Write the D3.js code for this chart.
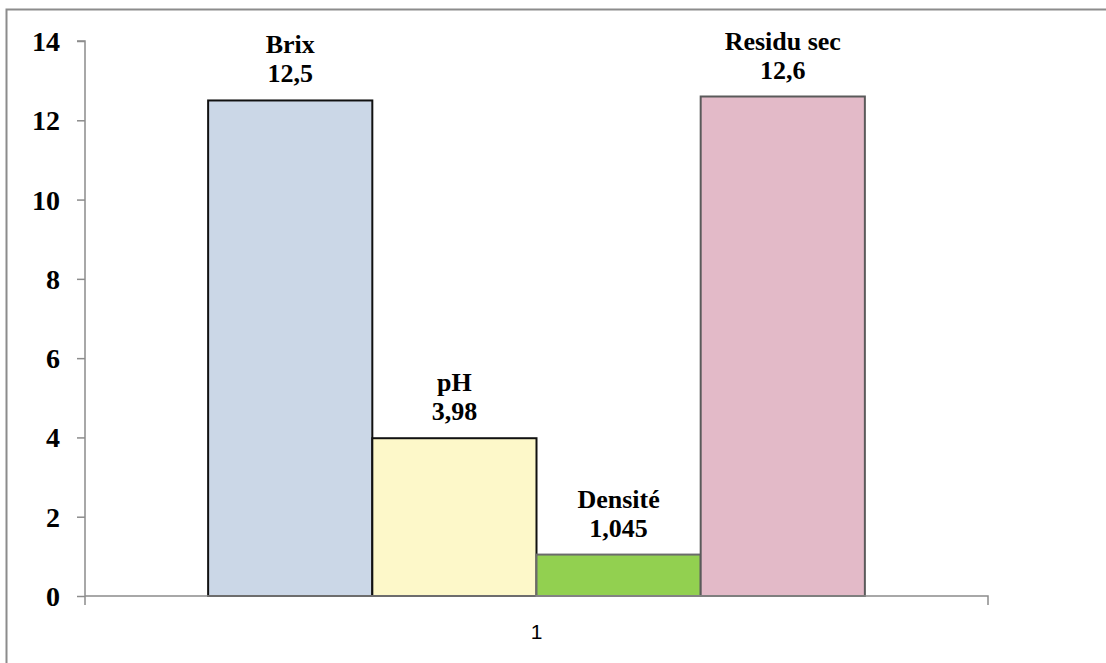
<!DOCTYPE html>
<html>
<head>
<meta charset="utf-8">
<script src="https://cdn.jsdelivr.net/npm/d3@7"></script>
<style>
  body { margin: 0; background: #fff; }
  svg { display: block; }
</style>
</head>
<body>
<div id="graph"></div>
<script>
// donnees
const series = ["Brix", "pH", "Densité", "Residu sec"];
const values = [12.5, 3.98, 1.045, 12.6];
const valueLabels = ["12,5", "3,98", "1,045", "12,6"];
const categories = ["1"];
const yTicks = [0, 2, 4, 6, 8, 10, 12, 14];

const colors = ["#cbd7e7", "#fdf8c9", "#92d050", "#e3bac8"];
const strokes = ["#111", "#111", "#6b6b6b", "#5a5a5a"];

const serif = "'Liberation Serif', 'Times New Roman', serif";

const W = 1106, H = 663;
const margin = { top: 41, right: 118, bottom: 67, left: 85 },
    width = W - margin.left - margin.right,
    height = H - margin.top - margin.bottom;

const svg = d3.select("#graph")
    .append("svg")
    .attr("width", W)
    .attr("height", H);

// cadre exterieur (coupe en bas et a droite)
svg.append("rect")
    .attr("x", 6.5).attr("y", 9.5)
    .attr("width", W + 10).attr("height", H + 10)
    .attr("fill", "none")
    .attr("stroke", "#8c8c8c")
    .attr("stroke-width", 2);

const g = svg.append("g")
    .attr("transform", "translate(" + margin.left + "," + margin.top + ")");

// X : une categorie, 4 series, gap 150%
const x0 = d3.scaleBand().domain(categories).range([0, width]);
const x1 = d3.scaleBand().domain(series)
    .range([x0.bandwidth() * (1.5 / 2 / 5.5), x0.bandwidth() * (1 - 1.5 / 2 / 5.5)]);

const y = d3.scaleLinear().domain([0, 14]).range([height, 0]);

// barres
g.append("g")
    .selectAll("rect")
    .data(series)
    .join("rect")
    .attr("x", d => x0("1") + x1(d))
    .attr("y", (d, i) => y(values[i]))
    .attr("width", x1.bandwidth())
    .attr("height", (d, i) => y(0) - y(values[i]))
    .attr("fill", (d, i) => colors[i])
    .attr("stroke", (d, i) => strokes[i])
    .attr("stroke-width", 2);

// axe Y
const yAxis = g.append("g")
    .call(d3.axisLeft(y).tickValues(yTicks).tickSize(8).tickFormat(d3.format("d")));
yAxis.select(".domain").attr("stroke", "#8c8c8c").attr("stroke-width", 1.5)
    .attr("d", "M0," + (height + 9) + "V0H-8");
yAxis.selectAll(".tick line").attr("stroke", "#8c8c8c").attr("stroke-width", 1.5);
yAxis.selectAll(".tick text")
    .attr("x", -25)
    .attr("dy", "0.34em")
    .style("font-family", serif)
    .style("font-weight", "bold")
    .style("font-size", "28px")
    .attr("fill", "#000");

// axe X
const xAxis = g.append("g")
    .attr("transform", "translate(0," + height + ")")
    .call(d3.axisBottom(x0).tickSize(0).tickPadding(0));
xAxis.select(".domain").attr("stroke", "#8c8c8c").attr("stroke-width", 1.5)
    .attr("d", "M0,0H" + width + "V9");
xAxis.selectAll(".tick text")
    .attr("y", 43)
    .attr("dy", 0)
    .style("font-family", "'Liberation Sans', Calibri, sans-serif")
    .style("font-size", "21px")
    .attr("fill", "#000");

// etiquettes
const labels = g.append("g")
    .selectAll("text")
    .data(series)
    .join("text")
    .attr("x", d => x0("1") + x1(d) + x1.bandwidth() / 2)
    .attr("y", (d, i) => y(values[i]) - 47)
    .attr("text-anchor", "middle")
    .style("font-family", serif)
    .style("font-weight", "bold")
    .style("font-size", "26px")
    .attr("fill", "#000");
labels.append("tspan").attr("x", function () { return this.parentNode.getAttribute("x"); })
    .text(d => d);
labels.append("tspan").attr("x", function () { return this.parentNode.getAttribute("x"); })
    .attr("dy", 29)
    .text((d, i) => valueLabels[i]);
</script>
</body>
</html>
